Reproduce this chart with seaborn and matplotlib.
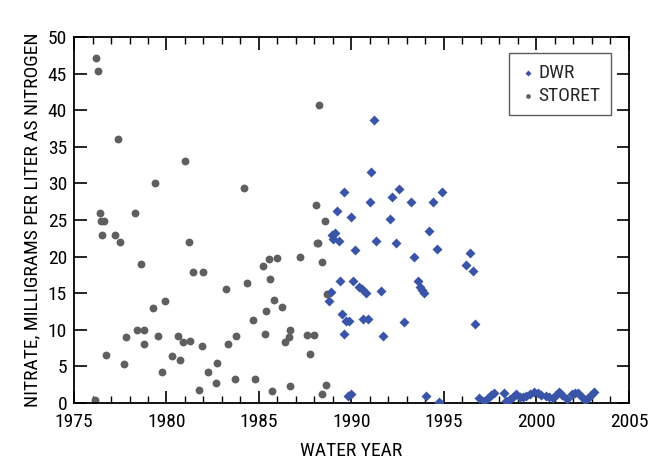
import pandas as pd
import seaborn as sns
import matplotlib.pyplot as plt
from matplotlib import font_manager
from matplotlib.ticker import MultipleLocator

# STORET samples (water year, nitrate mg/L as N)
storet_year = [1976.2, 1976.3, 1977.4, 1981.0, 1979.4, 1984.2, 1976.4, 1978.3, 1976.45, 1976.6,
               1976.5, 1977.2, 1977.5, 1981.2, 1978.6, 1981.45, 1982.0, 1984.35, 1983.2, 1979.9,
               1979.25, 1984.65, 1978.4, 1978.8, 1977.8, 1979.55, 1980.6, 1983.75, 1980.9, 1981.25,
               1978.8, 1981.9, 1983.35, 1976.75, 1980.3, 1980.75, 1977.7, 1982.75, 1979.75, 1982.25,
               1982.65, 1983.7, 1984.8, 1981.75, 1976.15, 1988.26, 1988.1, 1988.55, 1988.13, 1988.2,
               1985.55, 1986.0, 1985.2, 1987.2, 1988.4, 1985.6, 1988.7, 1985.8, 1985.4, 1986.25,
               1986.7, 1985.3, 1986.6, 1986.4, 1987.6, 1987.95, 1987.75, 1985.7, 1986.65, 1988.6,
               1988.4]
storet_nitrate = [47.1, 45.3, 36.1, 33.0, 30.0, 29.4, 26.0, 26.0, 24.9, 24.9,
                  23.0, 23.0, 22.0, 22.0, 19.0, 17.9, 17.9, 16.4, 15.6, 13.9,
                  13.0, 11.3, 10.0, 10.0, 9.0, 9.1, 9.1, 9.1, 8.4, 8.5,
                  8.0, 7.8, 8.1, 6.6, 6.4, 5.9, 5.3, 5.4, 4.2, 4.3,
                  2.8, 3.3, 3.3, 1.8, 0.4, 40.7, 27.1, 24.9, 21.9, 21.9,
                  19.7, 19.85, 18.75, 19.9, 19.2, 16.9, 14.9, 14.1, 12.6, 13.1,
                  10.0, 9.4, 9.0, 8.3, 9.25, 9.25, 6.7, 1.7, 2.3, 2.5,
                  1.2]

# DWR samples
dwr_year = [1991.2, 1991.05, 1989.6, 1992.55, 1990.98, 1992.2, 1993.2, 1994.4, 1994.9, 1989.2,
            1990.0, 1992.1, 1994.2, 1988.95, 1989.13, 1989.0, 1989.33, 1991.3, 1992.4, 1990.2,
            1994.6, 1993.4, 1989.36, 1990.1, 1993.6, 1990.4, 1990.55, 1990.8, 1991.6, 1993.7,
            1993.8, 1993.9, 1988.9, 1988.8, 1989.5, 1989.7, 1989.85, 1990.6, 1990.9, 1992.85,
            1989.6, 1991.7, 1989.8, 1989.95, 1994.05, 1994.75, 1996.4, 1996.2, 1996.55, 1996.7,
            1996.88, 1997.16, 1997.37, 1997.55, 1997.73, 1998.22, 1998.37, 1998.55, 1998.73, 1998.9,
            1999.1, 1999.28, 1999.46, 1999.64, 1999.87, 2000.09, 2000.27, 2000.49, 2000.67, 2000.87,
            2001.03, 2001.23, 2001.4, 2001.63, 2001.9, 2002.08, 2002.27, 2002.45, 2002.63, 2002.8,
            2002.95, 2003.1]
dwr_nitrate = [38.6, 31.6, 28.8, 29.3, 27.5, 28.1, 27.5, 27.5, 28.8, 26.2,
               25.4, 25.1, 23.45, 23.0, 23.2, 22.4, 22.1, 22.1, 21.9, 20.9,
               21.0, 20.0, 16.7, 16.7, 16.7, 15.8, 15.6, 15.0, 15.3, 15.8,
               15.4, 15.0, 15.1, 14.0, 12.2, 11.2, 11.25, 11.5, 11.5, 11.0,
               9.4, 9.2, 0.9, 1.2, 0.96, 0.2, 20.5, 18.9, 18.0, 10.75,
               0.73, 0.27, 0.73, 1.09, 1.41, 1.41, 0.27, 0.55, 0.87, 1.18,
               0.87, 0.87, 0.96, 1.18, 1.55, 1.32, 1.09, 0.96, 0.87, 0.73,
               1.09, 1.55, 1.09, 0.55, 1.18, 1.41, 1.32, 0.87, 0.41, 0.73,
               1.09, 1.46]

df = pd.concat([
    pd.DataFrame({'year': dwr_year, 'nitrate': dwr_nitrate, 'source': 'DWR'}),
    pd.DataFrame({'year': storet_year, 'nitrate': storet_nitrate, 'source': 'STORET'}),
])

sns.set_style('ticks')
# prefer a narrow face if one is installed
names = {f.name for f in font_manager.fontManager.ttflist}
narrow = [n for n in ['Liberation Sans Narrow', 'Roboto Condensed', 'Open Sans Condensed',
                      'DejaVu Sans Condensed'] if n in names]
plt.rcParams['font.family'] = narrow + ['DejaVu Sans']
condensed = any(f.name == 'DejaVu Sans' and f.stretch == 'condensed'
                for f in font_manager.fontManager.ttflist)
if not narrow and condensed:
    plt.rcParams['font.stretch'] = 'condensed'
fs = 14 if (narrow or condensed) else 11.5

fig = plt.figure(figsize=(6.52, 4.59), dpi=100)
ax = fig.add_axes([0.1135, 0.122, 0.8512, 0.7974])

palette = {'DWR': '#3a55a8', 'STORET': '#5f5f5f'}
sns.scatterplot(data=df[df.source == 'STORET'], x='year', y='nitrate', color=palette['STORET'],
                marker='o', s=32, linewidth=0, ax=ax, label='STORET', zorder=2)
sns.scatterplot(data=df[df.source == 'DWR'], x='year', y='nitrate', color=palette['DWR'],
                marker='D', s=26, linewidth=0, ax=ax, label='DWR', zorder=3)

ax.set_xlim(1975, 2005)
ax.set_ylim(0, 50)
ax.xaxis.set_major_locator(MultipleLocator(5))
ax.xaxis.set_minor_locator(MultipleLocator(1))
ax.yaxis.set_major_locator(MultipleLocator(5))
ax.tick_params(which='both', direction='in', top=True, right=True, labelsize=fs,
               color='black', labelcolor='black')
ax.tick_params(axis='x', pad=7)
ax.tick_params(axis='y', pad=5)
ax.tick_params(which='major', length=9, width=1.2)
ax.tick_params(which='minor', length=5, width=1.0)
for sp in ax.spines.values():
    sp.set_linewidth(1.3)
    sp.set_color('black')

ax.set_xlabel('WATER YEAR', fontsize=fs, color='black', labelpad=8)
ax.set_ylabel('NITRATE, MILLIGRAMS PER LITER AS NITROGEN', fontsize=fs, color='black', labelpad=5)

handles, labels = ax.get_legend_handles_labels()
order = [labels.index('DWR'), labels.index('STORET')]
leg = ax.legend([handles[i] for i in order], [labels[i] for i in order],
                loc='upper right', bbox_to_anchor=(0.968, 0.956), borderaxespad=0,
                fontsize=fs, frameon=True, fancybox=False, handletextpad=0.15,
                handlelength=0.8, markerscale=0.6, borderpad=0.55, labelspacing=0.25)
leg.get_frame().set_edgecolor('#333333')
leg.get_frame().set_linewidth(1.0)

fig.savefig('out.png', dpi=100)
